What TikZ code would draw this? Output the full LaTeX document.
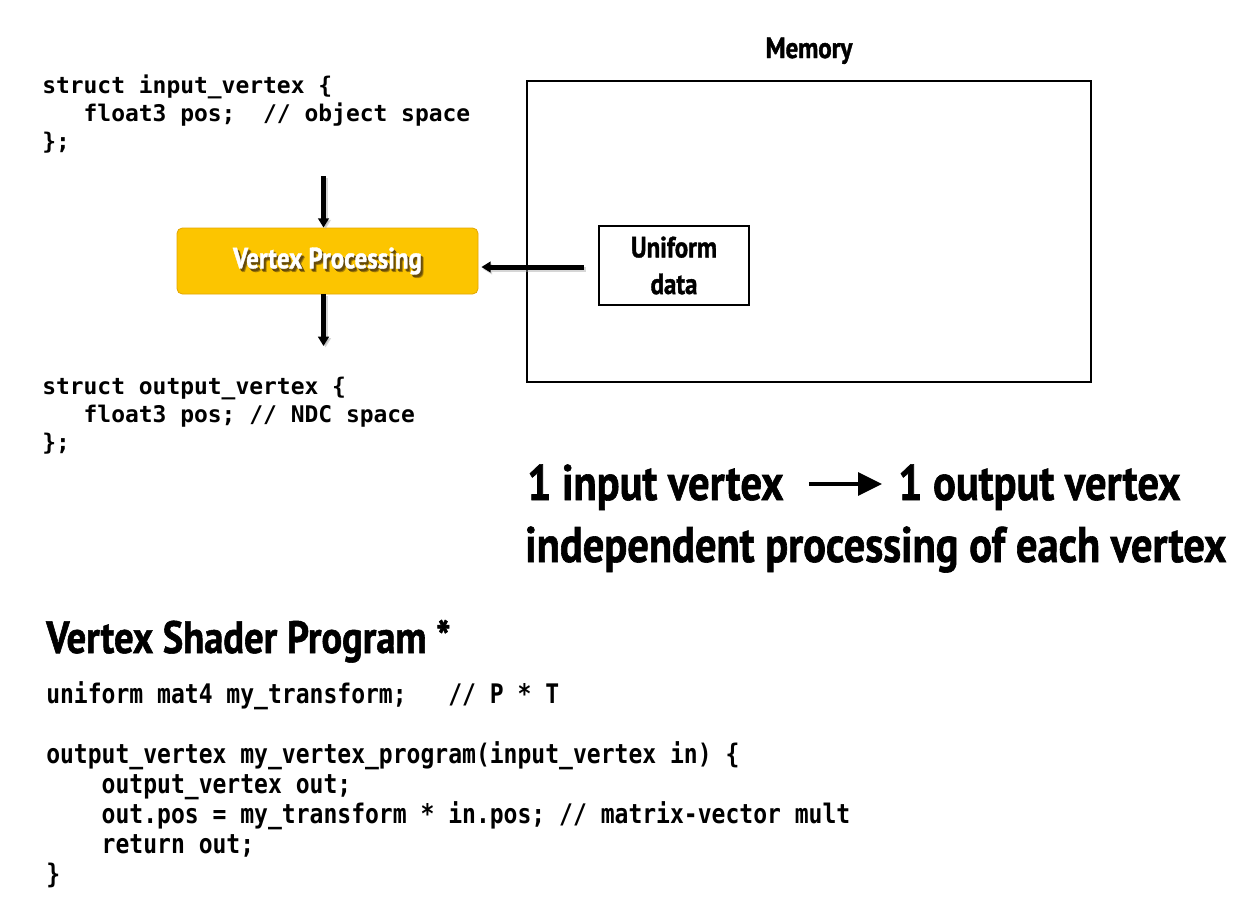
\documentclass[tikz,border=0pt]{standalone}
\usepackage{fontspec}
\usetikzlibrary{arrows.meta,calc}
\setmainfont{PT Sans}
\newfontfamily\cond[FakeStretch=0.85,FakeBold=1.2]{PT Sans}
\newfontfamily\codefont{DejaVu Sans Mono}
\newfontfamily\codecond[FakeStretch=0.855]{DejaVu Sans Mono}
\definecolor{vpfill}{HTML}{FCC500}
\definecolor{vpedge}{HTML}{E3A600}
\tikzset{
  codetop/.style={anchor=base west, inner sep=0pt, font=\codefont\bfseries\fontsize{17.2}{20}\selectfont},
  codebot/.style={anchor=base west, inner sep=0pt, font=\codecond\bfseries\fontsize{20.2}{24}\selectfont},
  bigline/.style={anchor=base west, inner sep=0pt, font=\cond\bfseries\fontsize{37.5}{40}\selectfont},
  titleline/.style={anchor=base west, inner sep=0pt, font=\cond\bfseries\fontsize{34}{40}\selectfont},
  boxlabel/.style={font=\cond\bfseries\fontsize{22}{27.5}\selectfont},
  thickarrow/.style={line width=3.75pt, -{Triangle[length=7pt,width=8pt]}},
  arrowshade/.style={line width=3.75pt, draw=black!35, opacity=0.45, -{Triangle[length=7pt,width=8pt]}},
}
\newcommand{\blank}[1]{\hphantom{#1}}
\begin{document}
\begin{tikzpicture}[x=0.75pt,y=-0.75pt]
\useasboundingbox (0,0) rectangle (1259,904);
\fill[white] (0,0) rectangle (1259,904);

% input / output structs
\node[codetop] (s1) at (42,93) {struct input\_vertex \{};
\node[codetop] (s2) at (42,121) {\blank{xxx}float3 pos;\blank{xx}// object space};
\node[codetop] (s3) at (42,149) {\};};
\node[codetop] (t1) at (42,394) {struct output\_vertex \{};
\node[codetop] (t2) at (42,422) {\blank{xxx}float3 pos;\blank{x}// NDC space};
\node[codetop] (t3) at (42,450) {\};};

% memory
\node[draw, line width=1.5pt, minimum width=423pt, minimum height=225.75pt, inner sep=0pt] (mem) at (809,231.5) {};
\node[boxlabel, anchor=base] (memlabel) at (809,58) {Memory};
\node[draw, line width=1.5pt, minimum width=112.5pt, minimum height=59.25pt, inner sep=0pt,
      boxlabel, align=center] (uni) at (674,265.5) {Uniform\\data};

% vertex processing stage
\node[fill=vpfill, draw=vpedge, line width=0.6pt, rounded corners=4pt,
      minimum width=225.75pt, minimum height=49.5pt, inner sep=0pt] (vp) at (327.5,261) {};
\foreach \dx/\dy/\op in {3/3.5/0.2, 2.5/3/0.25, 2/2.5/0.3, 1.5/2/0.3}
  \node[boxlabel, text=black!75!brown, opacity=\op] (vpsh) at ($(vp)+(\dx,\dy)$) {Vertex Processing};
\node[boxlabel, text=white] (vplabel) at (vp) {Vertex Processing};

\coordinate (intop) at (323.5,176);
\coordinate (outbot) at (323.5,346);
\coordinate (unisrc) at ($(uni.west)+(-14,1.5)$);
\draw[arrowshade] ($(intop)+(2,1.5)$) -- ($(intop |- vp.north)+(2,1.5)$);
\draw[arrowshade] ($(outbot |- vp.south)+(2,1.5)$) -- ($(outbot)+(2,1.5)$);
\draw[arrowshade] ($(unisrc)+(1.5,2)$) -- ($(unisrc -| vp.east)+(4.5,2)$);
\draw[thickarrow] (intop) -- (intop |- vp.north);
\draw[thickarrow] (outbot |- vp.south) -- (outbot);
\draw[thickarrow] (unisrc) -- ($(unisrc -| vp.east)+(3,0)$);

% summary
\node[bigline] (l1a) at (527,500) {1 input vertex};
\node[bigline] (l1b) at (898,500) {1 output vertex};
\draw[line width=3pt, -{Triangle[length=18pt,width=17pt]}] ($(l1a.base east)+(25,-16)$) -- ($(l1b.base west)+(-16,-16)$);
\node[bigline] (l2) at (525,562) {independent processing of each vertex};

% shader program
\node[titleline] (title) at (46,653) {Vertex Shader Program *};
\node[codebot] (c1) at (46,703) {uniform mat4 my\_transform;\blank{xxx}// P * T};
\node[codebot] (c2) at (46,763) {output\_vertex my\_vertex\_program(input\_vertex in) \{};
\node[codebot] (c3) at (46,793) {\blank{xxxx}output\_vertex out;};
\node[codebot] (c4) at (46,823) {\blank{xxxx}out.pos = my\_transform * in.pos; // matrix-vector mult};
\node[codebot] (c5) at (46,853) {\blank{xxxx}return out;};
\node[codebot] (c6) at (46,883) {\}};
\end{tikzpicture}
\end{document}
